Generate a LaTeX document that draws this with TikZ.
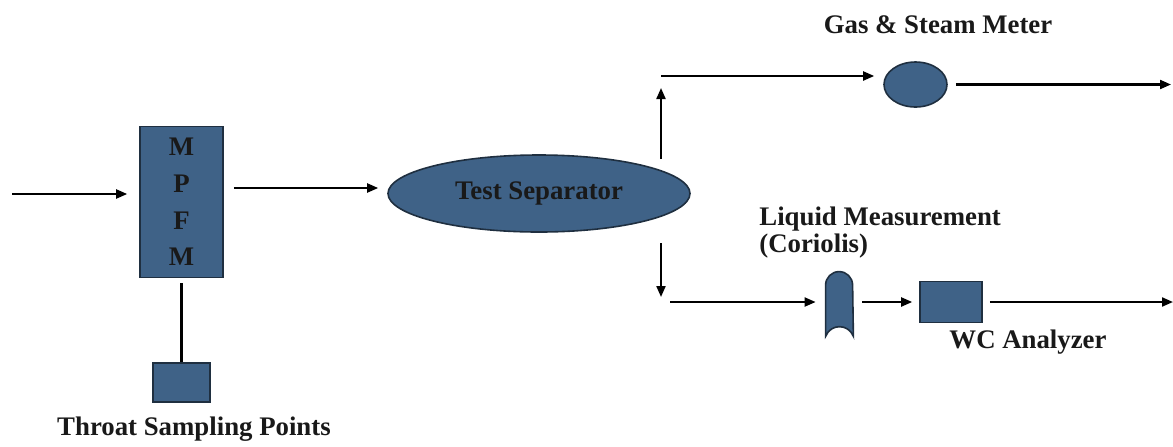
\documentclass[tikz,border=0pt]{standalone}
\usepackage{fontspec}
\setmainfont{Liberation Serif}
\usetikzlibrary{shapes.geometric, arrows.meta, positioning, calc}
\definecolor{unitfill}{HTML}{3F6287}
\definecolor{unitline}{HTML}{1F2F40}

\begin{document}
\begin{tikzpicture}[
    x=0.5pt, y=-0.5pt,
    every node/.style={font=\bfseries\fontsize{13.4}{13.5}\selectfont, text=black!90},
    unit/.style={draw=unitline, line width=0.8pt, fill=unitfill},
    box/.style={unit, rectangle, inner sep=0pt},
    vessel/.style={unit, ellipse, inner sep=0pt},
    lbl/.style={inner sep=0pt},
    arr/.style={-{Triangle[length=5.5pt, width=4.5pt]}, line width=1.05pt},
    ln/.style={line width=1.05pt}
]
    \useasboundingbox (0,0) rectangle (1173,446);

    % main units
    \node[box, minimum width=41.5pt, minimum height=75.5pt, align=center,
          font=\bfseries\fontsize{13.4}{18.3}\selectfont] (mpfm) at (181.5,202) {M\\P\\F\\M};
    \node[box, minimum width=28.5pt, minimum height=19.5pt] (tsp) at (181.5,382.5) {};
    \node[vessel, minimum width=151pt, minimum height=38.5pt] (sep) at (539,193.5) {Test Separator};
    \node[vessel, minimum width=31.5pt, minimum height=22.5pt] (gas) at (915.5,84.5) {};
    \node[minimum width=13.5pt, minimum height=32pt, inner sep=0pt] (cor) at (839.5,304) {};
    \node[box, minimum width=31pt, minimum height=20.5pt] (wc) at (951,302) {};

    % coriolis body
    \draw[unit] (cor.south west) -- ($(cor.north west)+(0,13.5)$)
        arc[start angle=180, end angle=0, radius=6.75pt]
        -- (cor.south east)
        .. controls ($(cor.south east)+(-5,-13)$) and ($(cor.south west)+(5,-13)$) .. (cor.south west)
        -- cycle;

    % labels
    \node[lbl, anchor=base] (tsplbl) at (194,435) {Throat Sampling Points};
    \node[lbl, anchor=base] (gaslbl) at (938,33) {Gas \& Steam Meter};
    \node[lbl, anchor=north west, align=left] (corlbl) at (759,206) {Liquid Measurement\\(Coriolis)};
    \node[lbl, anchor=base] (wclbl) at (1028,348) {WC Analyzer};

    % free ends
    \coordinate (in) at (12,194);
    \coordinate (feed) at (300,188);
    \coordinate (upa) at (661,159);
    \coordinate (upb) at (661,88);
    \coordinate (gasin) at (661,76);
    \coordinate (gasout) at (1171,84.5);
    \coordinate (dna) at (661,243);
    \coordinate (dnb) at (661,297);
    \coordinate (liqin) at (670,302);
    \coordinate (liqout) at (1173,302);

    % flow lines
    \draw[arr, shorten >=6pt] (in) -- (mpfm.west |- in);
    \draw[arr, shorten <=5pt, shorten >=4.5pt] (mpfm.east |- feed) -- (sep.west |- feed);
    \draw[ln, shorten <=2.5pt] (mpfm.south) -- (tsp.north);
    \draw[arr] (upa) -- (upb);
    \draw[arr, shorten >=4.5pt] (gasin) -- (gas.west |- gasin);
    \draw[arr, shorten <=4pt] (gas.east) -- (gasout);
    \draw[arr] (dna) -- (dnb);
    \draw[arr, shorten >=5pt] (liqin) -- (cor.west |- liqin);
    \draw[arr, shorten <=4.5pt, shorten >=3.5pt] (cor.east |- liqin) -- (wc.west |- liqin);
    \draw[arr, shorten <=3.5pt] (wc.east |- liqin) -- (liqout);
\end{tikzpicture}
\end{document}
